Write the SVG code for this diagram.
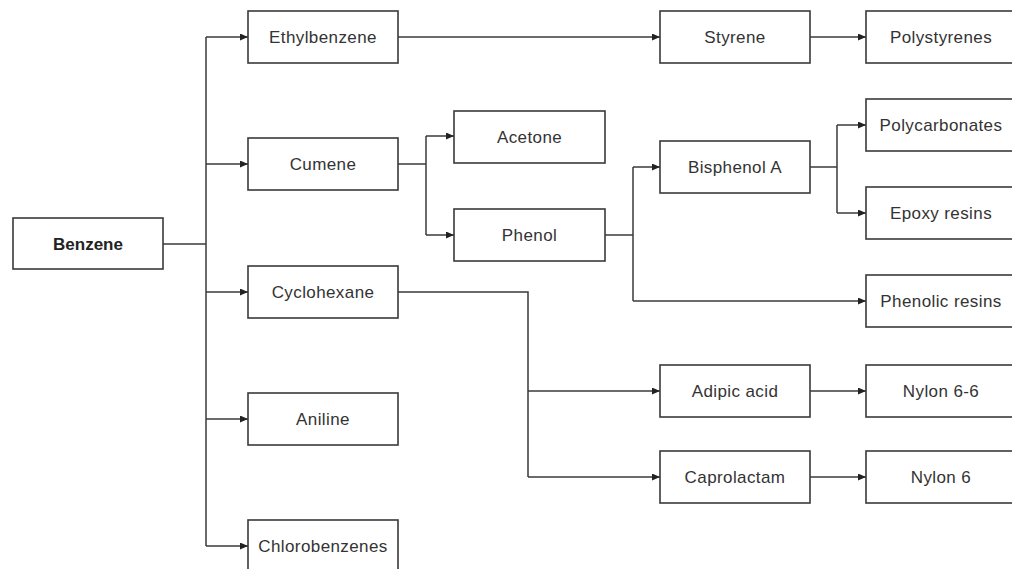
<svg xmlns="http://www.w3.org/2000/svg" width="1012" height="569" viewBox="0 0 1012 569">
<defs>
<style>
.box{fill:#fff;stroke:#3a3a3a;stroke-width:1.6}
.lbl{font-family:"Liberation Sans",Arial,sans-serif;font-size:17px;fill:#333;text-anchor:middle;dominant-baseline:central;letter-spacing:0.4px}
.bold{font-weight:bold;fill:#222;letter-spacing:0}
.c{fill:none;stroke:#3a3a3a;stroke-width:1.5}
.a{marker-end:url(#ah)}
</style>
<marker id="ah" markerWidth="9" markerHeight="8" refX="8" refY="3.5" orient="auto" markerUnits="userSpaceOnUse">
<path d="M0,0 L8,3.5 L0,7 z" fill="#222"/>
</marker>
</defs>
<rect width="1012" height="569" fill="#fff"/>
<g id="connectors">
<path class="c" d="M163 244 H206"/>
<path class="c" d="M206 37 V546"/>
<path class="c a" d="M206 37 H248"/>
<path class="c a" d="M206 164 H248"/>
<path class="c a" d="M206 292 H248"/>
<path class="c a" d="M206 419 H248"/>
<path class="c a" d="M206 546 H248"/>
<path class="c a" d="M398 37 H660"/>
<path class="c a" d="M810 37 H866"/>
<path class="c" d="M398 164 H426"/>
<path class="c" d="M426 136 V235"/>
<path class="c a" d="M426 136 H454"/>
<path class="c a" d="M426 235 H454"/>
<path class="c" d="M605 235 H633"/>
<path class="c" d="M633 167 V301"/>
<path class="c a" d="M633 167 H660"/>
<path class="c a" d="M633 301 H866"/>
<path class="c" d="M810 167 H837"/>
<path class="c" d="M837 125 V213"/>
<path class="c a" d="M837 125 H866"/>
<path class="c a" d="M837 213 H866"/>
<path class="c" d="M398 292 H528 V477"/>
<path class="c a" d="M528 391 H660"/>
<path class="c a" d="M528 477 H660"/>
<path class="c a" d="M810 391 H866"/>
<path class="c a" d="M810 477 H866"/>
</g>
<g id="benzene"><rect class="box" x="13" y="218" width="150" height="51"/><text class="lbl bold" x="88" y="244">Benzene</text></g>
<g id="ethylbenzene"><rect class="box" x="248" y="11" width="150" height="52"/><text class="lbl" x="323" y="37">Ethylbenzene</text></g>
<g id="cumene"><rect class="box" x="248" y="138" width="150" height="52"/><text class="lbl" x="323" y="164">Cumene</text></g>
<g id="cyclohexane"><rect class="box" x="248" y="266" width="150" height="52"/><text class="lbl" x="323" y="292">Cyclohexane</text></g>
<g id="aniline"><rect class="box" x="248" y="393" width="150" height="52"/><text class="lbl" x="323" y="419">Aniline</text></g>
<g id="chlorobenzenes"><rect class="box" x="248" y="520" width="150" height="52"/><text class="lbl" x="323" y="546">Chlorobenzenes</text></g>
<g id="acetone"><rect class="box" x="454" y="111" width="151" height="52"/><text class="lbl" x="529.5" y="137">Acetone</text></g>
<g id="phenol"><rect class="box" x="454" y="209" width="151" height="52"/><text class="lbl" x="529.5" y="235">Phenol</text></g>
<g id="styrene"><rect class="box" x="660" y="11" width="150" height="52"/><text class="lbl" x="735" y="37">Styrene</text></g>
<g id="bisphenol-a"><rect class="box" x="660" y="141" width="150" height="52"/><text class="lbl" x="735" y="167">Bisphenol A</text></g>
<g id="adipic-acid"><rect class="box" x="660" y="365" width="150" height="52"/><text class="lbl" x="735" y="391">Adipic acid</text></g>
<g id="caprolactam"><rect class="box" x="660" y="451" width="150" height="52"/><text class="lbl" x="735" y="477">Caprolactam</text></g>
<g id="polystyrenes"><rect class="box" x="866" y="11" width="150" height="52"/><text class="lbl" x="941" y="37">Polystyrenes</text></g>
<g id="polycarbonates"><rect class="box" x="866" y="99" width="150" height="52"/><text class="lbl" x="941" y="125">Polycarbonates</text></g>
<g id="epoxy-resins"><rect class="box" x="866" y="187" width="150" height="52"/><text class="lbl" x="941" y="213">Epoxy resins</text></g>
<g id="phenolic-resins"><rect class="box" x="866" y="275" width="150" height="52"/><text class="lbl" x="941" y="301">Phenolic resins</text></g>
<g id="nylon-6-6"><rect class="box" x="866" y="365" width="150" height="52"/><text class="lbl" x="941" y="391">Nylon 6-6</text></g>
<g id="nylon-6"><rect class="box" x="866" y="451" width="150" height="52"/><text class="lbl" x="941" y="477">Nylon 6</text></g>
</svg>
